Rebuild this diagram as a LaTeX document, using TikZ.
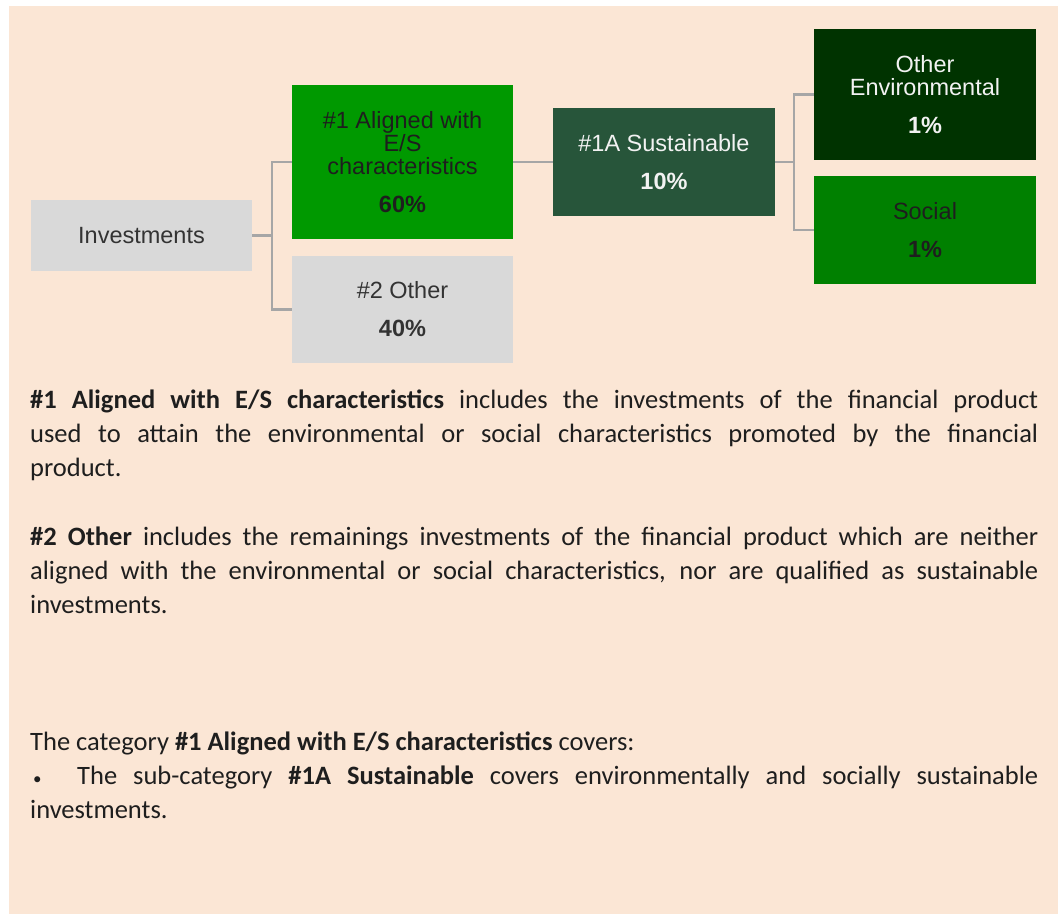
\documentclass[tikz,border=0pt]{standalone}
\usepackage{fontspec}
\setmainfont{Carlito}
\newfontfamily\arialfont{Liberation Sans}
\definecolor{peach}{HTML}{FBE6D5}
\definecolor{boxgray}{HTML}{D9D9D9}
\definecolor{gA}{HTML}{009900}
\definecolor{gB}{HTML}{27553A}
\definecolor{gC}{HTML}{003300}
\definecolor{gD}{HTML}{008000}
\definecolor{conngray}{HTML}{A6A6A6}
\definecolor{darktext}{HTML}{1E1E1E}
\definecolor{lighttext}{HTML}{F2F2F2}
\begin{document}
\begin{tikzpicture}[x=1pt,y=-1pt,
  catbox/.style={inner sep=0pt, align=center, minimum width=221pt,
    font=\arialfont\fontsize{23.5}{23}\selectfont, text=darktext},
  conn/.style={draw=conngray, line width=2.6pt},
  para/.style={anchor=base west, inner sep=0pt, text width=1008pt, align=justify,
    font=\fontsize{26.5}{34.2}\selectfont, text=darktext}]
\useasboundingbox (0,0) rectangle (1063,914);
\fill[white] (0,0) rectangle (1063,914);
\fill[peach] (9,6) rectangle (1058,914);
% boxes
\node[catbox, fill=boxgray, minimum height=71pt, text=black!80] (inv) at (141.5,235.5) {Investments};
\node[catbox, fill=gA, minimum height=154pt] (a1) at (402.5,162) {\#1 Aligned with\\E/S\\characteristics\\[15pt]\textbf{60\%}};
\node[catbox, fill=boxgray, minimum height=107pt, text=black!80] (o2) at (402.5,309.5) {\#2 Other\\[15pt]\textbf{40\%}};
\node[catbox, fill=gB, minimum width=222pt, minimum height=108pt, text=lighttext] (s1a) at (664,162) {\#1A Sustainable\\[15pt]\textbf{10\%}};
\node[catbox, fill=gC, minimum width=222pt, minimum height=131pt, text=lighttext] (oe) at (925,94.5) {Other\\Environmental\\[15pt]\textbf{1\%}};
\node[catbox, fill=gD, minimum width=222pt, minimum height=108pt] (soc) at (925,230) {Social\\[15pt]\textbf{1\%}};
% connectors
\coordinate (j1) at (272,235.5);
\coordinate (j2) at (794,162);
\draw[conn] (inv.east) -- (j1) |- (a1.west);
\draw[conn] (j1) |- (o2.west);
\draw[conn] (a1.east) -- (s1a.west);
\draw[conn] (s1a.east) -- (j2) |- (oe.west);
\draw[conn] (j2) |- (soc.west);
% text
\node[para] (p1) at (30,408) {\textbf{\#1 Aligned with E/S characteristics} includes the investments of the financial product\linebreak used to attain the environmental or social characteristics promoted by the financial\linebreak product.};
\node[para] (p2) at (30,545) {\textbf{\#2 Other} includes the remainings investments of the financial product which are neither\linebreak aligned with the environmental or social characteristics, nor are qualified as sustainable\linebreak investments.};
\node[para] (p3) at (30,750) {The category \textbf{\#1 Aligned with E/S characteristics} covers:\\
\makebox[47pt][l]{\hspace{3pt}{\fontsize{17}{17}\selectfont\textbullet}}The sub-category \textbf{\#1A Sustainable} covers environmentally and socially sustainable\linebreak investments.};
\end{tikzpicture}
\end{document}
